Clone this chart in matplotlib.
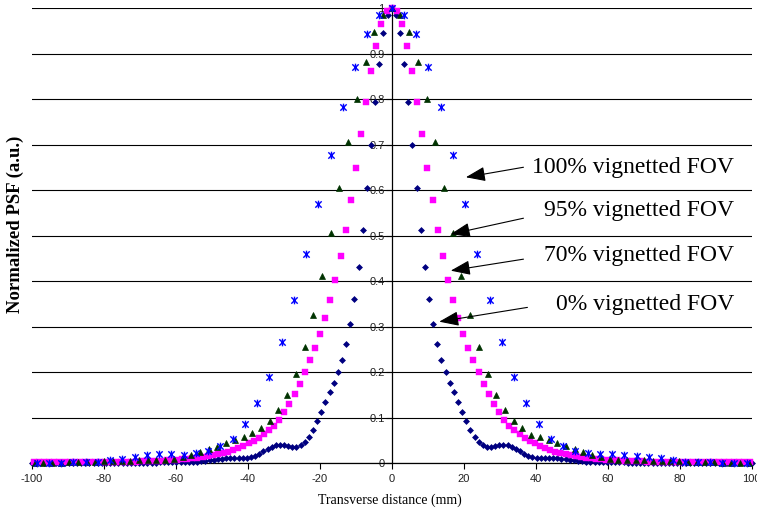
import numpy as np
import matplotlib
matplotlib.use("Agg")
import matplotlib.pyplot as plt
from matplotlib.path import Path

plt.rcParams['axes.unicode_minus'] = False

# ---------------- data ----------------
x_ticks = [-100, -80, -60, -40, -20, 0, 20, 40, 60, 80, 100]
y_ticks = [0, 0.1, 0.2, 0.3, 0.4, 0.5, 0.6, 0.7, 0.8, 0.9, 1.0]
y_tick_labels = ["0", "0.1", "0.2", "0.3", "0.4", "0.5", "0.6", "0.7", "0.8", "0.9", "1"]

# sampling steps (mm) of each series
step_0 = 1.15     # 0% vignetted FOV (diamonds)
step_70 = 1.42    # 70% vignetted FOV (squares)
step_95 = 2.42    # 95% vignetted FOV (triangles)
step_100 = 3.40   # 100% vignetted FOV (stars)

# 0% vignetted FOV : left side (x<0) then right side (x>=0)
fov0_left = [
    0.001, 0.001, 0.001, 0.001, 0.001, 0.001, 0.001, 0.001,
    0.001, 0.001, 0.001, 0.001, 0.001, 0.001, 0.001, 0.001, 0.001, 0.001,
    0.001, 0.001, 0.001, 0.001, 0.001, 0.001, 0.001, 0.001, 0.001, 0.001,
    0.001, 0.001, 0.001, 0.002, 0.002, 0.002, 0.002, 0.002, 0.002, 0.002,
    0.002, 0.002, 0.003, 0.004, 0.005, 0.006, 0.007, 0.008, 0.009, 0.010,
    0.010, 0.010, 0.011, 0.011, 0.012, 0.013, 0.016, 0.020, 0.026, 0.031,
    0.036, 0.039, 0.040, 0.039, 0.037, 0.035, 0.035, 0.039, 0.046, 0.057,
    0.073, 0.092, 0.112, 0.133, 0.155, 0.176, 0.199, 0.227, 0.262, 0.305,
    0.360, 0.431, 0.513, 0.604, 0.700, 0.793, 0.877, 0.944, 0.985]
fov0_right = [
    1.000, 0.985, 0.944, 0.877, 0.793, 0.700, 0.604, 0.513, 0.431, 0.360,
    0.305, 0.262, 0.227, 0.199, 0.176, 0.155, 0.133, 0.112, 0.092, 0.073,
    0.057, 0.046, 0.039, 0.035, 0.035, 0.037, 0.039, 0.040, 0.039, 0.036,
    0.031, 0.026, 0.020, 0.016, 0.013, 0.012, 0.011, 0.011, 0.010, 0.010,
    0.010, 0.009, 0.008, 0.007, 0.006, 0.005, 0.004, 0.003, 0.002, 0.002,
    0.002, 0.002, 0.002, 0.002, 0.002, 0.002, 0.002, 0.001, 0.001, 0.001,
    0.001, 0.001, 0.001, 0.001, 0.001, 0.001, 0.001, 0.001, 0.001, 0.001,
    0.001, 0.001, 0.001, 0.001, 0.001, 0.001, 0.001, 0.001, 0.001, 0.001,
    0.001, 0.001, 0.001, 0.001, 0.001, 0.001, 0.001, 0.001]

# 70% vignetted FOV
fov70_left = [
    0.002,
    0.002, 0.002, 0.002, 0.002, 0.002, 0.002, 0.002, 0.002, 0.002, 0.002,
    0.002, 0.003, 0.003, 0.003, 0.003, 0.003, 0.003, 0.003, 0.003, 0.003,
    0.004, 0.004, 0.004, 0.005, 0.005, 0.006, 0.006, 0.007, 0.008, 0.009,
    0.010, 0.011, 0.013, 0.015, 0.017, 0.019, 0.022, 0.025, 0.029, 0.033,
    0.038, 0.043, 0.049, 0.056, 0.063, 0.072, 0.082, 0.095, 0.111, 0.129,
    0.151, 0.174, 0.199, 0.226, 0.253, 0.284, 0.319, 0.358, 0.402, 0.454,
    0.512, 0.578, 0.648, 0.722, 0.793, 0.862, 0.917, 0.964, 0.993]
fov70_right = [
    1.000, 0.993, 0.964, 0.917, 0.862, 0.793, 0.722, 0.648, 0.578, 0.512,
    0.454, 0.402, 0.358, 0.319, 0.284, 0.253, 0.226, 0.199, 0.174, 0.151,
    0.129, 0.111, 0.095, 0.082, 0.072, 0.063, 0.056, 0.049, 0.043, 0.038,
    0.033, 0.029, 0.025, 0.022, 0.019, 0.017, 0.015, 0.013, 0.011, 0.010,
    0.009, 0.008, 0.007, 0.006, 0.006, 0.005, 0.005, 0.004, 0.004, 0.004,
    0.003, 0.003, 0.003, 0.003, 0.003, 0.003, 0.003, 0.003, 0.003, 0.002,
    0.002, 0.002, 0.002, 0.002, 0.002, 0.002, 0.002, 0.002, 0.002, 0.002,
    0.002]

# 95% vignetted FOV
fov95_left = [
    0.001, 0.001,
    0.001, 0.001, 0.0015, 0.002, 0.003, 0.003, 0.004, 0.004, 0.005, 0.005,
    0.006, 0.006, 0.006, 0.007, 0.009, 0.013, 0.018, 0.024, 0.031, 0.036,
    0.044, 0.051, 0.058, 0.067, 0.077, 0.093, 0.116, 0.149, 0.196, 0.254,
    0.325, 0.410, 0.505, 0.605, 0.705, 0.800, 0.882, 0.947, 0.985]
fov95_right = [
    1.000, 0.985, 0.947, 0.882, 0.800, 0.705, 0.605, 0.505, 0.410, 0.325,
    0.254, 0.196, 0.149, 0.116, 0.093, 0.077, 0.062, 0.058, 0.051, 0.045,
    0.037, 0.031, 0.025, 0.018, 0.013, 0.009, 0.007, 0.006, 0.006, 0.006,
    0.005, 0.005, 0.004, 0.004, 0.003, 0.003, 0.002, 0.0015, 0.001, 0.001,
    0.001, 0.001]

# 100% vignetted FOV
fov100_left = [
    0.001, 0.001, 0.001, 0.0015, 0.002, 0.003, 0.0066, 0.0095, 0.014, 0.017,
    0.0198, 0.0198, 0.0176, 0.021, 0.026, 0.037, 0.053, 0.086, 0.132, 0.190,
    0.267, 0.358, 0.459, 0.569, 0.678, 0.782, 0.871, 0.942, 0.985]
fov100_right = [
    1.000, 0.985, 0.942, 0.871, 0.782, 0.678, 0.569, 0.459, 0.358, 0.267,
    0.190, 0.132, 0.086, 0.053, 0.037, 0.026, 0.021, 0.019, 0.019, 0.018,
    0.016, 0.013, 0.010, 0.007, 0.003, 0.002, 0.0015, 0.001, 0.001, 0.001]

labels = ["100% vignetted FOV", "95% vignetted FOV", "70% vignetted FOV", "0% vignetted FOV"]


def series(left, right, step):
    y = np.array(left + right)
    idx = np.arange(-len(left), len(right))
    return idx * step, y


x0, y0 = series(fov0_left, fov0_right, step_0)
x70, y70 = series(fov70_left, fov70_right, step_70)
x95, y95 = series(fov95_left, fov95_right, step_95)
x100, y100 = series(fov100_left, fov100_right, step_100)

# ---------------- figure ----------------
fig = plt.figure(figsize=(7.57, 5.16), dpi=100)
ax = fig.add_axes([0.04188, 0.10271, 0.95112, 0.88178])
ax.set_xlim(-100, 100)
ax.set_ylim(0, 1)

star = Path([(-1, -1), (1, 1), (-1, 1), (1, -1), (0, -1.2), (0, 1.2)],
            [Path.MOVETO, Path.LINETO, Path.MOVETO, Path.LINETO, Path.MOVETO, Path.LINETO])

ax.plot(x0, y0, linestyle='none', marker='D', ms=3.0, mfc='#000080', mec='#000080',
        mew=0.5, clip_on=False, zorder=3)
ax.plot(x70, y70, linestyle='none', marker='s', ms=4.3, mfc='#FF00FF', mec='#FF00FF',
        mew=0.3, clip_on=False, zorder=4)
ax.plot(x95, y95, linestyle='none', marker='^', ms=4.8, mfc='#003300', mec='#003300',
        mew=0.5, clip_on=False, zorder=5)
ax.plot(x100, y100, linestyle='none', marker=star, ms=5.5, mfc='none', mec='#0000FF',
        mew=1.0, clip_on=False, zorder=6)

# axes styling
for s in ['top', 'right']:
    ax.spines[s].set_visible(False)
ax.spines['left'].set_position(('data', 0))
ax.spines['left'].set_linewidth(0.9)
ax.spines['bottom'].set_linewidth(0.9)
ax.spines['left'].set_zorder(2)

ax.set_xticks(x_ticks)
ax.set_xticklabels([str(v) for v in x_ticks])
ax.set_yticks(y_ticks)
ax.set_yticklabels(y_tick_labels)
ax.tick_params(axis='x', direction='out', length=4, width=0.8, pad=4,
               labelsize=8, labelcolor='#222222')
ax.tick_params(axis='y', direction='out', length=4, width=0.8, pad=1,
               labelsize=8, labelcolor='#222222')
for lab in ax.get_xticklabels() + ax.get_yticklabels():
    lab.set_family('Liberation Sans')

ax.yaxis.grid(True, color='black', linewidth=0.8)
ax.set_axisbelow(True)

fig.text(0.0198, 0.566, 'Normalized PSF (a.u.)', rotation=90, fontweight='bold',
         family='Liberation Serif', fontsize=13.5, ha='center', va='center')
fig.text(0.515, 0.031, 'Transverse distance (mm)', family='Liberation Serif',
         fontsize=10, ha='center', va='center')

# annotations
text_y = [0.6505, 0.5545, 0.455, 0.349]
tails = [(36.6, 0.650), (36.6, 0.538), (36.6, 0.448), (37.7, 0.342)]
tips = [(20.6, 0.628), (16.4, 0.503), (16.4, 0.4227), (13.2, 0.3106)]
for lab, ty, tail, tip in zip(labels, text_y, tails, tips):
    ax.text(95.1, ty, lab, family='Liberation Serif', fontsize=17,
            ha='right', va='center', zorder=7)
    ax.annotate('', xy=tip, xytext=tail,
                arrowprops=dict(arrowstyle='-|>,head_length=1.2,head_width=0.45',
                                color='black', lw=0.8, shrinkA=0, shrinkB=0,
                                mutation_scale=10),
                zorder=8)

fig.savefig('out.png', dpi=100)
